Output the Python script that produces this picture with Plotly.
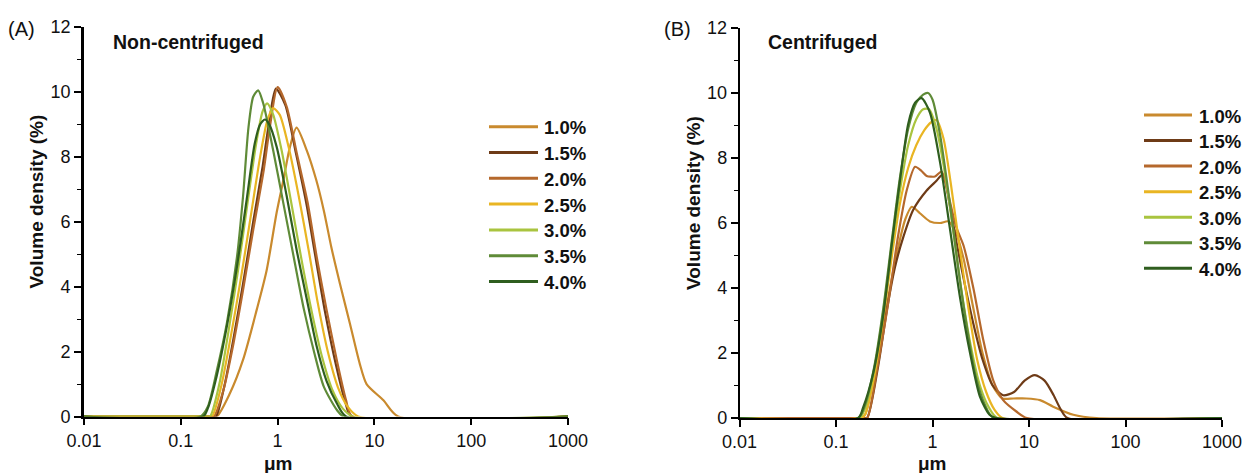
import plotly.graph_objects as go

W, H = 1245, 473

labels = ["1.0%", "1.5%", "2.0%", "2.5%", "3.0%", "3.5%", "4.0%"]
colors = ["#C98A2E", "#6E3B17", "#B5682C", "#E9B523", "#A9C43F", "#5F8B38", "#2F5E1F"]

x_ticks = [0.01, 0.1, 1, 10, 100, 1000]
x_ticktext = ["0.01", "0.1", "1", "10", "100", "1000"]
y_ticks = [0, 2, 4, 6, 8, 10, 12]

# ---------- Panel A: Non-centrifuged ----------
A_x_10 = [0.01, 0.2, 0.235, 0.32, 0.44, 0.61, 0.77, 0.98, 1.15, 1.34, 1.57, 2.0, 2.5, 3.0, 3.6, 4.4, 5.6, 7.1, 8.3, 12.4, 17.6, 1000]
A_y_10 = [0, 0, 0, 0.7, 1.75, 3.3, 4.5, 6.3, 7.3, 8.3, 8.9, 8.2, 7.3, 6.35, 5.2, 4.1, 2.85, 1.6, 1.0, 0.5, 0, 0]
A_x_15 = [0.01, 0.2, 0.23, 0.28, 0.35, 0.44, 0.56, 0.7, 0.82, 0.96, 1.2, 1.55, 2.0, 2.5, 3.1, 4.0, 5.0, 5.8, 1000]
A_y_15 = [0, 0, 0, 0.9, 2.4, 4.1, 6.0, 7.7, 9.1, 10.1, 9.6, 8.1, 6.5, 4.8, 3.2, 1.6, 0.45, 0, 0]
A_x_20 = [0.01, 0.2, 0.22, 0.275, 0.35, 0.44, 0.56, 0.72, 0.83, 1.0, 1.24, 1.58, 2.04, 2.54, 3.2, 4.08, 5.1, 5.9, 1000]
A_y_20 = [0, 0, 0, 0.8, 2.25, 3.9, 5.75, 7.6, 8.9, 10.15, 9.55, 8.1, 6.6, 4.9, 3.3, 1.75, 0.5, 0, 0]
A_x_25 = [0.01, 0.19, 0.21, 0.26, 0.33, 0.42, 0.53, 0.66, 0.78, 0.9, 1.05, 1.3, 1.65, 2.1, 2.6, 3.3, 4.2, 5.3, 6.8, 1000]
A_y_25 = [0, 0, 0, 0.9, 2.5, 4.3, 6.2, 8.0, 9.1, 9.5, 9.3, 8.3, 6.8, 5.1, 3.5, 2.0, 0.9, 0.3, 0, 0]
A_x_30 = [0.01, 0.18, 0.2, 0.25, 0.31, 0.39, 0.49, 0.6, 0.7, 0.78, 0.9, 1.1, 1.4, 1.8, 2.3, 2.9, 3.7, 4.7, 6.0, 1000]
A_y_30 = [0, 0, 0, 1.0, 2.6, 4.5, 6.6, 8.4, 9.4, 9.65, 9.3, 8.2, 6.5, 4.7, 3.1, 1.8, 0.8, 0.25, 0, 0]
A_x_35 = [0.01, 0.16, 0.19, 0.235, 0.3, 0.38, 0.44, 0.5, 0.56, 0.63, 0.71, 0.9, 1.15, 1.47, 1.87, 2.4, 3.0, 4.1, 4.8, 1000]
A_y_35 = [0, 0, 0.3, 1.4, 2.9, 4.9, 6.8, 8.9, 9.85, 10.05, 9.65, 8.2, 6.55, 4.9, 3.3, 1.95, 0.92, 0.2, 0, 0]
A_x_40 = [0.01, 0.17, 0.19, 0.235, 0.3, 0.38, 0.48, 0.58, 0.66, 0.74, 0.82, 0.98, 1.24, 1.58, 2.04, 2.54, 3.2, 4.1, 5.1, 1000]
A_y_40 = [0, 0, 0.25, 1.25, 2.8, 4.6, 6.7, 8.4, 9.0, 9.15, 9.0, 8.3, 6.8, 5.1, 3.5, 2.15, 1.1, 0.4, 0, 0]

# ---------- Panel B: Centrifuged ----------
B_x_10 = [0.01, 0.18, 0.2, 0.26, 0.335, 0.43, 0.52, 0.61, 0.74, 0.94, 1.2, 1.46, 1.75, 2.1, 2.6, 3.3, 4.2, 5.3, 6.9, 9.4, 13, 17.8, 28.8, 50, 1000]
B_y_10 = [0, 0, 0.1, 1.6, 3.45, 5.1, 6.1, 6.5, 6.3, 6.05, 6.0, 6.05, 5.7, 4.9, 3.5, 2.0, 1.0, 0.6, 0.6, 0.6, 0.55, 0.35, 0.1, 0, 0]
B_x_15 = [0.01, 0.19, 0.21, 0.27, 0.34, 0.41, 0.5, 0.63, 0.87, 1.1, 1.28, 1.5, 1.8, 2.2, 2.7, 3.3, 4.2, 5.4, 7.0, 9.0, 11.5, 14.5, 18, 21, 25, 1000]
B_y_15 = [0, 0, 0, 1.5, 3.4, 4.66, 5.58, 6.4, 7.0, 7.3, 7.5, 6.6, 5.3, 4.0, 2.8, 1.8, 1.0, 0.7, 0.8, 1.15, 1.32, 1.15, 0.7, 0.3, 0, 0]
B_x_20 = [0.01, 0.19, 0.21, 0.27, 0.35, 0.44, 0.54, 0.66, 0.77, 0.87, 1.06, 1.24, 1.45, 1.75, 2.1, 2.65, 3.36, 4.27, 5.4, 7.4, 9.5, 1000]
B_y_20 = [0, 0, 0, 1.6, 3.6, 5.6, 7.0, 7.73, 7.6, 7.45, 7.43, 7.58, 6.9, 5.9, 5.3, 4.0, 2.4, 1.15, 0.55, 0.2, 0, 0]
B_x_25 = [0.01, 0.18, 0.2, 0.25, 0.31, 0.38, 0.46, 0.56, 0.68, 0.82, 0.97, 1.1, 1.3, 1.55, 1.9, 2.35, 2.9, 3.6, 4.4, 5.3, 1000]
B_y_25 = [0, 0, 0.1, 1.3, 3.1, 5.0, 6.6, 7.7, 8.4, 8.85, 9.1, 9.17, 8.6, 7.2, 5.3, 3.4, 1.8, 0.8, 0.25, 0, 0]
B_x_30 = [0.01, 0.175, 0.2, 0.25, 0.31, 0.38, 0.46, 0.56, 0.68, 0.8, 0.92, 1.1, 1.35, 1.65, 2.0, 2.5, 3.1, 3.8, 4.7, 1000]
B_y_30 = [0, 0, 0.3, 1.5, 3.3, 5.3, 7.0, 8.4, 9.2, 9.5, 9.5, 8.9, 7.5, 5.7, 3.9, 2.2, 1.0, 0.35, 0, 0]
B_x_35 = [0.01, 0.17, 0.2, 0.25, 0.31, 0.38, 0.46, 0.56, 0.68, 0.8, 0.9, 1.0, 1.2, 1.5, 1.85, 2.3, 2.8, 3.5, 4.3, 1000]
B_y_35 = [0, 0, 0.4, 1.6, 3.4, 5.5, 7.4, 8.9, 9.7, 9.95, 10.0, 9.8, 8.7, 6.7, 4.6, 2.7, 1.3, 0.4, 0, 0]
B_x_40 = [0.01, 0.17, 0.19, 0.244, 0.31, 0.377, 0.46, 0.56, 0.66, 0.77, 0.94, 1.2, 1.52, 1.93, 2.45, 3.1, 3.9, 4.6, 1000]
B_y_40 = [0, 0, 0.3, 1.4, 3.2, 5.3, 7.3, 9.05, 9.7, 9.84, 9.4, 7.85, 5.8, 3.7, 2.0, 0.66, 0.1, 0, 0]

panelA = [(A_x_10, A_y_10), (A_x_15, A_y_15), (A_x_20, A_y_20), (A_x_25, A_y_25),
          (A_x_30, A_y_30), (A_x_35, A_y_35), (A_x_40, A_y_40)]
panelB = [(B_x_10, B_y_10), (B_x_15, B_y_15), (B_x_20, B_y_20), (B_x_25, B_y_25),
          (B_x_30, B_y_30), (B_x_35, B_y_35), (B_x_40, B_y_40)]

FONT = "Liberation Sans, Arial, Helvetica, sans-serif"

fig = go.Figure()
for (xs, ys), c, lab in zip(panelA, colors, labels):
    fig.add_trace(go.Scatter(x=xs, y=ys, mode="lines", name=lab, showlegend=False,
                             line=dict(color=c, width=2.2, shape="spline", smoothing=0.7),
                             xaxis="x", yaxis="y"))
for (xs, ys), c, lab in zip(panelB, colors, labels):
    fig.add_trace(go.Scatter(x=xs, y=ys, mode="lines", name=lab, showlegend=False,
                             line=dict(color=c, width=2.2, shape="spline", smoothing=0.7),
                             xaxis="x2", yaxis="y2"))

def px_x(p):
    return p / W

def px_y(p):
    return 1 - p / H

common_x = dict(type="log", range=[-2, 3], tickmode="array", tickvals=x_ticks, ticktext=x_ticktext,
                showline=True, linecolor="black", linewidth=1.5, ticks="outside", ticklen=7,
                tickwidth=1.5, tickcolor="black", showgrid=False, zeroline=False, automargin=False,
                tickfont=dict(family=FONT, size=18, color="#111"), layer="below traces")
common_y = dict(range=[0, 12], tickmode="array", tickvals=y_ticks, showline=True, linecolor="black",
                ticks="outside", ticklen=7, tickwidth=1.5, tickcolor="black", showgrid=False,
                zeroline=False, automargin=False, tickfont=dict(family=FONT, size=18, color="#111"),
                minor=dict(dtick=1, tick0=0, ticks="outside", ticklen=4, tickwidth=1.2, tickcolor="black", showgrid=False))

fig.update_layout(
    width=W, height=H, margin=dict(l=0, r=0, t=0, b=0, autoexpand=False),
    paper_bgcolor="white", plot_bgcolor="white", showlegend=False,
    xaxis=dict(domain=[84 / W, 568 / W], anchor="y", **common_x),
    yaxis=dict(domain=[px_y(416.5), px_y(27)], anchor="x", linewidth=2.6, **common_y),
    xaxis2=dict(domain=[739.5 / W, 1222 / W], anchor="y2", **common_x),
    yaxis2=dict(domain=[px_y(418), px_y(28)], anchor="x2", linewidth=1.5, **common_y),
)

ann = []
def text(x, y, s, size, bold=False, xanchor="center", angle=0):
    ann.append(dict(x=px_x(x), y=px_y(y), xref="paper", yref="paper", text=("<b>%s</b>" % s) if bold else s,
                    showarrow=False, xanchor=xanchor, yanchor="middle", textangle=angle,
                    font=dict(family=FONT, size=size, color="#111")))

text(21.5, 29, "(A)", 20)
text(677.5, 29, "(B)", 20)
text(111, 42, "Non-centrifuged", 19.5, bold=True, xanchor="left")
text(766, 42, "Centrifuged", 19.5, bold=True, xanchor="left")
text(36.5, 202, "Volume density (%)", 19, bold=True, angle=-90)
text(693, 203, "Volume density (%)", 19, bold=True, angle=-90)
text(278, 463, "μm", 19, bold=True)
text(932, 463, "μm", 19, bold=True)

shapes = []
legend_specs = [(489, 538, 542, 126.7, 25.8), (1144, 1192, 1197, 115, 25.55)]
for (lx0, lx1, tx, ty0, dy) in legend_specs:
    for i, (lab, c) in enumerate(zip(labels, colors)):
        yy = ty0 + i * dy
        shapes.append(dict(type="line", xref="paper", yref="paper", x0=px_x(lx0), x1=px_x(lx1),
                           y0=px_y(yy), y1=px_y(yy), line=dict(color=c, width=3)))
        text(tx, yy + 1, lab, 18.5, bold=True, xanchor="left")

fig.update_layout(annotations=ann, shapes=shapes)
fig.write_html("out.html")
